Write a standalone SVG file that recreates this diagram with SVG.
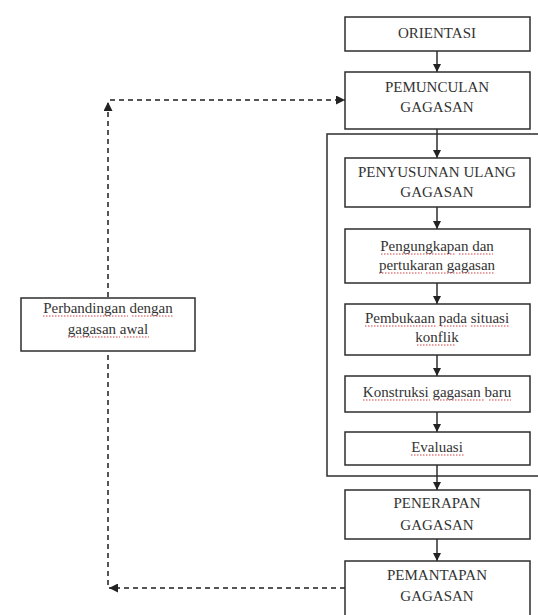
<svg xmlns="http://www.w3.org/2000/svg" width="538" height="615" viewBox="0 0 538 615">
<style>
.box{fill:#fff;stroke:#2e2e2e;stroke-width:1.5}
.frame{fill:none;stroke:#2e2e2e;stroke-width:1.5}
text{font-family:"Liberation Serif","Times New Roman",serif;font-size:15px;fill:#333;text-anchor:middle}
.flow{stroke:#2e2e2e;stroke-width:1.5;fill:none;marker-end:url(#ah)}
.dash{stroke:#555;stroke-width:2;stroke-dasharray:5 4;fill:none}
.sq{stroke:#d04040;stroke-width:1;stroke-dasharray:1.5 1.5;fill:none}
</style>
<defs>
<marker id="ah" viewBox="0 0 10 10" refX="10" refY="5" markerWidth="8" markerHeight="8" markerUnits="userSpaceOnUse" orient="auto">
<path d="M0,0 L10,5 L0,10 z" fill="#222"/>
</marker>
<marker id="dh" viewBox="0 0 10 10" refX="10" refY="5" markerWidth="9" markerHeight="9" markerUnits="userSpaceOnUse" orient="auto">
<path d="M0,0 L10,5 L0,10 z" fill="#222"/>
</marker>
</defs>
<rect width="538" height="615" fill="#fff"/>
<rect class="frame" x="327" y="134" width="220" height="342"/>
<g id="connectors">
<line class="flow" x1="437" y1="51" x2="437" y2="72"/>
<line class="flow" x1="437" y1="129" x2="437" y2="158"/>
<line class="flow" x1="437" y1="207" x2="437" y2="229"/>
<line class="flow" x1="437" y1="283" x2="437" y2="304"/>
<line class="flow" x1="437" y1="355" x2="437" y2="376"/>
<line class="flow" x1="437" y1="412" x2="437" y2="432"/>
<line class="flow" x1="437" y1="465" x2="437" y2="490"/>
<line class="flow" x1="437" y1="539" x2="437" y2="561"/>
<line class="dash" x1="345" y1="588" x2="109" y2="588" marker-end="url(#dh)"/>
<line class="dash" x1="108" y1="585" x2="108" y2="102" marker-end="url(#dh)"/>
<line class="dash" x1="110" y1="100" x2="345" y2="100" marker-end="url(#dh)"/>
</g>
<g id="orientasi"><rect class="box" x="345" y="17" width="185" height="34"/><text x="437" y="38">ORIENTASI</text></g>
<g id="pemunculan"><rect class="box" x="345" y="72" width="185" height="57"/><text x="437" y="92">PEMUNCULAN</text><text x="437" y="112">GAGASAN</text></g>
<g id="penyusunan"><rect class="box" x="345" y="158" width="185" height="49"/><text x="437" y="177">PENYUSUNAN ULANG</text><text x="437" y="197">GAGASAN</text></g>
<g id="pengungkapan"><rect class="box" x="345" y="229" width="185" height="54"/><text x="437" y="251">Pengungkapan dan</text><text x="437" y="270">pertukaran gagasan</text>
<path class="sq" d="M381,254 H455 M459,254 H493 M379,273 H422 M426,273 H494"/></g>
<g id="pembukaan"><rect class="box" x="345" y="304" width="185" height="51"/><text x="437" y="323">Pembukaan pada situasi</text><text x="437" y="342">konflik</text>
<path class="sq" d="M365,326 H437 M441,326 H467 M471,326 H509 M417,345 H456"/></g>
<g id="konstruksi"><rect class="box" x="345" y="376" width="185" height="36"/><text x="437" y="397">Konstruksi gagasan baru</text>
<path class="sq" d="M363,400 H430 M434,400 H485 M489,400 H511"/></g>
<g id="evaluasi"><rect class="box" x="345" y="432" width="185" height="33"/><text x="437" y="452">Evaluasi</text>
<path class="sq" d="M411,455 H464"/></g>
<g id="penerapan"><rect class="box" x="345" y="490" width="185" height="49"/><text x="437" y="508">PENERAPAN</text><text x="437" y="530">GAGASAN</text></g>
<g id="pemantapan"><rect class="box" x="345" y="561" width="185" height="70"/><text x="437" y="580">PEMANTAPAN</text><text x="437" y="601">GAGASAN</text></g>
<g id="perbandingan"><rect class="box" x="21" y="298" width="174" height="53"/><text x="108" y="313">Perbandingan dengan</text><text x="108" y="334">gagasan awal</text>
<path class="sq" d="M43,316 H128 M132,316 H173 M68,337 H120 M124,337 H149"/></g>
</svg>
